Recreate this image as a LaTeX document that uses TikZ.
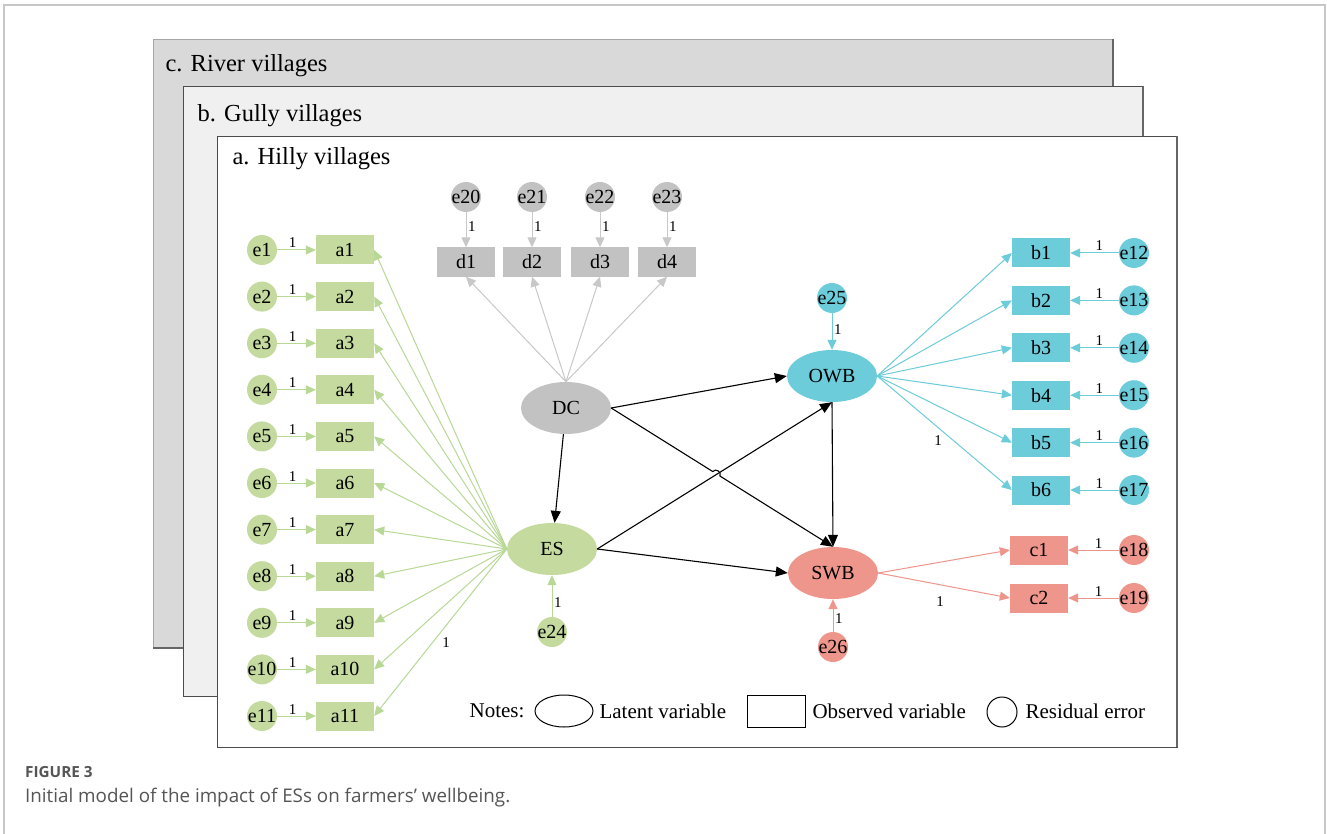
\documentclass[tikz,border=0pt]{standalone}
\usepackage{fontspec}
\setmainfont{Liberation Serif}
\newfontfamily\capfont{Open Sans}
\usetikzlibrary{shapes.geometric,arrows.meta,calc}
\definecolor{gfill}{RGB}{196,218,158}
\definecolor{gline}{RGB}{184,216,150}
\definecolor{bfill}{RGB}{108,204,218}
\definecolor{rfill}{RGB}{238,150,140}
\definecolor{dfill}{RGB}{194,194,194}
\definecolor{dline}{RGB}{200,200,200}
\definecolor{capgray}{RGB}{85,85,85}
\newcommand{\zw}[1]{\makebox[0pt]{#1}}
\tikzset{
  lbl/.style={font=\fontsize{20}{20}\selectfont},
  note/.style={font=\fontsize{21}{21}\selectfont},
  errnode/.style={circle,minimum size=30pt,inner sep=0pt,lbl},
  obsnode/.style={rectangle,minimum width=58pt,minimum height=29pt,inner sep=0pt,lbl},
  latnode/.style={ellipse,minimum width=90pt,minimum height=52pt,inner sep=0pt,lbl},
  one/.style={font=\fontsize{15}{15}\selectfont,inner sep=1.5pt,text=black},
  arr/.style={-{Triangle[length=10pt,width=9pt]},line width=1pt},
  causal/.style={-{Triangle[length=12pt,width=10pt]},line width=1.1pt,black},
  panel/.style={draw=black!70,line width=0.8pt},
  key/.style={draw,line width=1pt}
}
\begin{document}
\begin{tikzpicture}[x=1pt,y=-1pt]
\useasboundingbox (0,0) rectangle (1327,834);
\fill[white] (0,0) rectangle (1327,834);
% frame of the figure
\draw[black!22,line width=1.2pt] (4,834) -- (4,5) -- (1325,5) -- (1325,834);

% three panels
\filldraw[panel,fill=black!15,draw=black!35] (153,39) rectangle (1113,648);
\draw[black!60,line width=2pt] (1113,39) -- (1113,648) -- (153,648);
\filldraw[panel,fill=black!6] (183,86) rectangle (1143,696);
\draw[black!60,line width=2pt] (1143,86) -- (1143,696);
\filldraw[panel,fill=white] (217,136) rectangle (1177,747);
\draw[black!60,line width=2pt] (1177,136) -- (1177,747);
\node[anchor=west,font=\fontsize{24.5}{24.5}\selectfont] (tc) at (162,66) {c. River villages};
\node[anchor=west,font=\fontsize{24.5}{24.5}\selectfont] (tb) at (194,116) {b. Gully villages};
\node[anchor=west,font=\fontsize{24.5}{24.5}\selectfont] (ta) at (229,159) {a. Hilly villages};

% latent variables
\node[latnode,fill=dfill] (dc) at (566,408) {DC};
\node[latnode,fill=gfill] (es) at (552,549) {ES};
\node[latnode,fill=bfill] (owb) at (832,376) {OWB};
\node[latnode,fill=rfill] (swb) at (833,573) {SWB};

% ES block
\foreach \i [evaluate=\i as \y using 250+(\i-1)*46.6] in {1,...,11}{
  \node[errnode,fill=gfill] (e\i) at (262,\y) {\zw{e\i}};
  \node[obsnode,fill=gfill] (a\i) at (345,\y) {a\i};
  \draw[arr,gline] (e\i) -- node[one,above,pos=0.4]{1} (a\i);
  \draw[arr,gline] (es.west) -- (a\i.east);
}
\node[one] (la) at (446,643) {1};

% DC block
\foreach \i/\x in {1/466,2/532,3/600,4/667}{
  \pgfmathtruncatemacro{\k}{19+\i}
  \node[errnode,fill=dfill] (e\k) at (\x,197) {\zw{e\k}};
  \node[obsnode,fill=dfill] (d\i) at (\x,262) {d\i};
  \draw[arr,dline] (e\k) -- node[one,right,pos=0.4]{1} (d\i);
  \draw[arr,dline] (dc.north) -- (d\i.south);
}

% OWB block
\foreach \i [evaluate=\i as \y using 253+(\i-1)*47.4] in {1,...,6}{
  \pgfmathtruncatemacro{\k}{11+\i}
  \node[obsnode,fill=bfill] (b\i) at (1041,\y) {b\i};
  \node[errnode,fill=bfill] (e\k) at (1134,\y) {\zw{e\k}};
  \draw[arr,bfill] (e\k) -- node[one,above,pos=0.4]{1} (b\i);
  \draw[arr,bfill] (owb.east) -- (b\i.west);
}
\node[one] (lb) at (938,441) {1};

% SWB block
\foreach \i/\y in {1/550,2/598}{
  \pgfmathtruncatemacro{\k}{17+\i}
  \node[obsnode,fill=rfill] (c\i) at (1039,\y) {c\i};
  \node[errnode,fill=rfill] (e\k) at (1134,\y) {\zw{e\k}};
  \draw[arr,rfill] (e\k) -- node[one,above,pos=0.4]{1} (c\i);
  \draw[arr,rfill] (swb.east) -- (c\i.west);
}
\node[one] (lc) at (940,602) {1};

% residuals of the latent variables
\node[errnode,fill=gfill] (e24) at (552,632) {\zw{e24}};
\node[errnode,fill=bfill] (e25) at (832,298) {\zw{e25}};
\node[errnode,fill=rfill] (e26) at (833,647) {\zw{e26}};
\draw[arr,gline] (e24) -- node[one,right,pos=0.35]{1} (es);
\draw[arr,bfill] (e25) -- node[one,right,pos=0.45]{1} (owb);
\draw[arr,rfill] (e26) -- node[one,right,pos=0.4]{1} (swb);

% structural paths
\draw[causal] (dc) -- (es);
\draw[causal] (dc.east) -- (owb.west);
\draw[causal] (dc.east) -- ($(dc.east)!0.458!(swb.north)$)
  to[bend left=90,looseness=1.4] ($(dc.east)!0.49!(swb.north)$) -- (swb.north);
\draw[causal] (es.east) -- (owb.south);
\draw[causal] (es.east) -- (swb.west);
\draw[causal] (owb.south) -- (swb.north);

% notes
\node[note,anchor=east] (notes) at (528,711) {Notes:};
\node[key,ellipse,minimum width=58pt,minimum height=32pt] (klat) at (564,711) {};
\node[note,anchor=west] (tlat) at (596,711) {Latent variable};
\node[key,rectangle,minimum width=58pt,minimum height=32pt] (kobs) at (776,711) {};
\node[note,anchor=west] (tobs) at (809,711) {Observed variable};
\node[key,circle,minimum size=30pt] (kres) at (1002,712) {};
\node[note,anchor=west] (tres) at (1022,711) {Residual error};

% caption
\node[anchor=base west,inner sep=0pt,text=capgray,font=\capfont\bfseries\fontsize{15.3}{15.3}\selectfont] (fig) at (25,777) {FIGURE 3};
\node[anchor=base west,inner sep=0pt,text=capgray,font=\capfont\fontsize{18.8}{18.8}\selectfont] (cap) at (25,802) {Initial model of the impact of ESs on farmers’ wellbeing.};
\end{tikzpicture}
\end{document}
